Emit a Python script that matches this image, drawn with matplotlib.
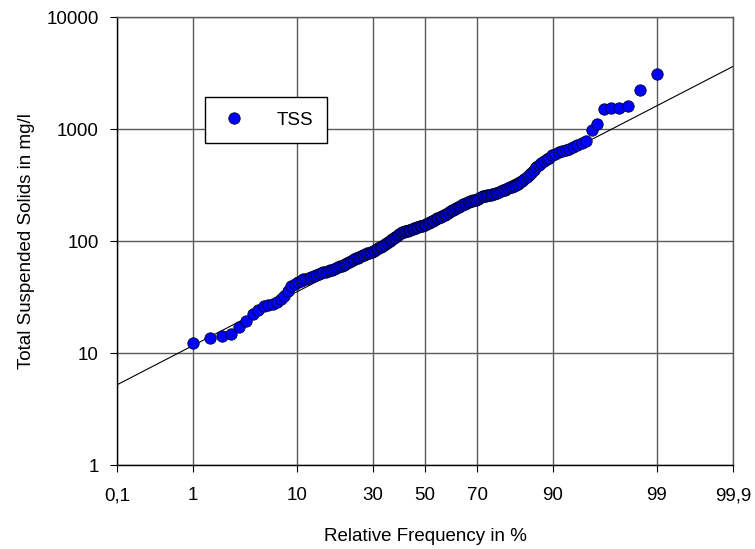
import numpy as np
import matplotlib
matplotlib.use("Agg")
import matplotlib.pyplot as plt
from statistics import NormalDist

plt.rcParams["font.family"] = ["Liberation Sans", "DejaVu Sans"]

# TSS values in mg/l, sorted
tss = [
    12.2, 13.7, 14.1, 14.7, 17.2, 19.3, 22.4, 24.2, 26.2, 27.1,
    27.4, 28.6, 30.4, 32.3, 36.0, 39.3, 41.0, 42.8, 44.2, 45.4,
    46.2, 47.1, 48.0, 49.0, 49.9, 50.8, 51.6, 52.4, 53.1, 53.8,
    54.6, 55.5, 56.4, 57.4, 58.3, 59.4, 60.4, 61.4, 62.6, 63.7,
    65.0, 66.2, 67.5, 68.8, 69.9, 71.0, 72.1, 73.3, 74.4, 75.4,
    76.4, 77.5, 78.5, 79.5, 80.5, 81.7, 83.2, 84.7, 86.2, 87.7,
    89.3, 90.9, 92.5, 94.2, 96.0, 97.8, 99.6, 101.5, 103.5, 105.5,
    107.5, 110, 113, 116, 118.5, 120, 121, 122, 123, 124,
    125, 126, 127, 128, 129.5, 131, 132.5, 134, 135, 136.5,
    137.5, 139, 140, 142, 144, 146, 148, 150, 152, 154,
    156, 159, 161, 163, 165, 168, 170, 172, 176, 179,
    182, 185, 188, 191, 194, 197, 200, 203, 206, 209,
    212, 215, 218, 221, 224, 227, 229, 231, 233, 234,
    237, 240, 245, 250, 252, 254, 256, 258, 259, 261,
    264, 267, 271, 275, 279, 283, 288, 293, 297, 301,
    305, 309, 313, 324, 335, 346, 360, 374, 387, 402,
    428, 456, 478, 495, 515, 535, 556, 585, 603, 618,
    634, 650, 665, 690, 718, 755, 778, 985, 1115, 1500,
    1530, 1540, 1620, 2220, 3120,
]
# relative frequency of the lowest and highest sample (%)
freq_first, freq_last = 1.0, 99.0

# fitted line, read at the edges of the plot
fit_freq = [0.1, 99.9]
fit_tss = [5.2, 3620]

tick_freq = [0.1, 1, 10, 30, 50, 70, 90, 99, 99.9]
tick_labels = ["0,1", "1", "10", "30", "50", "70", "90", "99", "99,9"]
y_ticks = [1, 10, 100, 1000, 10000]

freq = np.linspace(freq_first, freq_last, len(tss))

nd = NormalDist()
_inv = np.vectorize(lambda v: nd.inv_cdf(v / 100.0), otypes=[float])
_cdf = np.vectorize(lambda v: nd.cdf(v) * 100.0, otypes=[float])


def to_z(p):
    p = np.clip(np.asarray(p, dtype=float), 1e-6, 100 - 1e-6)
    return _inv(p)


def from_z(z):
    return _cdf(np.asarray(z, dtype=float))


fs = 13.5

fig = plt.figure(figsize=(7.55, 5.49), dpi=100)
ax = fig.add_axes([117 / 755, 1 - 465 / 549, 616 / 755, 448 / 549])

ax.set_xscale("function", functions=(to_z, from_z))
ax.set_yscale("log")
ax.set_xlim(0.1, 99.9)
ax.set_ylim(1, 10000)

ax.plot(fit_freq, fit_tss, color="black", lw=0.8, zorder=2)
ax.plot(freq, tss, "o", color="#0000ff", markeredgecolor="#000033",
        markeredgewidth=0.6, markersize=8.2, label="TSS", zorder=3)

ax.set_xticks(tick_freq)
ax.set_xticklabels(tick_labels)
ax.set_yticks(y_ticks)
ax.set_yticklabels([str(v) for v in y_ticks])
ax.minorticks_off()
ax.tick_params(axis="both", labelsize=fs, direction="out", length=5,
               width=0.8, color="black")
ax.tick_params(axis="x", pad=11)
ax.tick_params(axis="y", pad=8)

ax.grid(True, color="#5a5a5a", lw=1.0)
ax.set_axisbelow(True)
for side in ["left", "bottom"]:
    ax.spines[side].set_color("black")
    ax.spines[side].set_linewidth(1.0)
for side in ["top", "right"]:
    ax.spines[side].set_color("#5a5a5a")
    ax.spines[side].set_linewidth(1.0)

ax.set_xlabel("Relative Frequency in %", fontsize=fs, labelpad=17)
ax.set_ylabel("Total Suspended Solids in mg/l", fontsize=fs, labelpad=8)

leg = ax.legend(loc="center", bbox_to_anchor=(266 / 755, 1 - 120 / 549),
                bbox_transform=fig.transFigure, fancybox=False, shadow=False,
                framealpha=1, edgecolor="black", fontsize=fs,
                borderpad=0.75, handletextpad=1.5, handlelength=1.6,
                borderaxespad=0)
leg.get_frame().set_linewidth(1.0)

fig.savefig("out.png", dpi=100)
